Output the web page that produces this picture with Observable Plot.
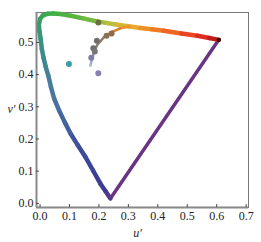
<!DOCTYPE html>
<html>
<head>
<meta charset="utf-8">
<script src="https://cdn.jsdelivr.net/npm/d3@7"></script>
<script src="https://cdn.jsdelivr.net/npm/@observablehq/plot@0.6"></script>
<style>
  html, body { margin: 0; padding: 0; background: #fff; }
  #chart { width: 261px; height: 242px; }
</style>
</head>
<body>
<div id="chart"></div>
<script>
// Spectral locus (u', v'), with estimated wavelength (nm)
const locusU = [0.239,0.222,0.205,0.180,0.154,0.128,0.104,0.085,0.065,0.048,0.037,0.028,0.019,0.012,0.006,0.002,-0.002,-0.004,0.000,0.010,0.025,0.045,0.070,0.104,0.150,0.194,0.230,0.262,0.300,0.341,0.380,0.420,0.480,0.534,0.575,0.607];
const locusV = [0.015,0.038,0.061,0.102,0.144,0.181,0.216,0.250,0.288,0.325,0.362,0.397,0.425,0.452,0.480,0.511,0.535,0.555,0.573,0.584,0.589,0.590,0.588,0.583,0.574,0.565,0.560,0.555,0.550,0.545,0.541,0.536,0.528,0.521,0.514,0.508];
const locusW = [380,440,455,462,468,472,476,479,482,485,487,489,491,493,495,498,500,503,506,510,515,520,527,535,548,560,568,575,582,590,597,604,615,625,640,700];

// Line of purples
const purpleU = [0.607, 0.239];
const purpleV = [0.508, 0.015];

// Planckian locus
const planckU = [0.307,0.273,0.245,0.217,0.194,0.183,0.177,0.171];
const planckV = [0.550,0.544,0.533,0.516,0.492,0.469,0.449,0.428];

// Measured points
const ptU = [0.198,0.243,0.226,0.193,0.181,0.186,0.174,0.198,0.098];
const ptV = [0.562,0.528,0.521,0.505,0.482,0.472,0.452,0.404,0.433];

const xTicks = [0,0.1,0.2,0.3,0.4,0.5,0.6,0.7];
const yTicks = [0,0.1,0.2,0.3,0.4,0.5];

// styles
const spectralColor = d3.scaleLinear()
  .domain([380,450,470,485,495,505,520,545,565,580,595,610,630,700])
  .range(["#55368a","#3a3c94","#3c4c9c","#4a78a0","#3a9088","#38a060","#40b040","#6cb840","#b0c040","#e8b030","#f08020","#f05020","#d82020","#300808"])
  .interpolate(d3.interpolateRgb);
const planckPalette = ["#f0902a","#d88230","#b87a48","#9a7860","#888484","#8e92a8","#a0aacc","#b4c0e0"];
const ptPalette = ["#6e6e3c","#8c6c4c","#8a6e56","#6e6e6e","#6e6e70","#767678","#7c80a0","#8a80b4","#38a0a0"];

const xDom = [-0.012, 0.708];
const yDom = [-0.013, 0.593];

const locus = locusU.map((u, i) => ({u, v: locusV[i], w: locusW[i]}));
const purple = purpleU.map((u, i) => ({u, v: purpleV[i]}));
const planck = planckU.map((u, i) => ({u, v: planckV[i], i}));
const pts = ptU.map((u, i) => ({u, v: ptV[i], i}));

const chart = Plot.plot({
  width: 261,
  height: 242,
  marginLeft: 36,
  marginRight: 13,
  marginTop: 12,
  marginBottom: 35,
  style: {fontFamily: "'Liberation Serif', 'DejaVu Serif', serif", fontSize: "12px", color: "#222", background: "#fff"},
  x: {domain: xDom, ticks: xTicks},
  y: {domain: yDom, ticks: yTicks},
  color: {type: "identity"},
  marks: [
    Plot.frame({stroke: "#777", strokeWidth: 1}),
    Plot.line(purple, {x: "u", y: "v", stroke: "#6a3482", strokeWidth: 3.5, strokeLinecap: "round"}),
    Plot.line(locus, {x: "u", y: "v", z: null, stroke: d => spectralColor(d.w), strokeWidth: 4.5, strokeLinecap: "round", strokeLinejoin: "round"}),
    Plot.line(planck, {x: "u", y: "v", z: null, stroke: d => planckPalette[d.i], strokeWidth: 2.5, strokeLinecap: "round"}),
    Plot.dot(pts, {x: "u", y: "v", r: 3, fill: d => ptPalette[d.i], stroke: null}),
    Plot.ruleY([yDom[0]], {stroke: "#888", strokeWidth: 2}),
    Plot.ruleX([xDom[0]], {stroke: "#888", strokeWidth: 2}),
    Plot.ruleX(xTicks, {x: d => d, y1: yDom[0], y2: yDom[0] + 0.009, stroke: "#444", strokeWidth: 1}),
    Plot.ruleY(yTicks, {y: d => d, x1: xDom[0], x2: xDom[0] + 0.01, stroke: "#444", strokeWidth: 1}),
    Plot.axisX(xTicks, {tickSize: 0, tickPadding: 4, tickFormat: d3.format(".1f"), label: null, fill: "#222", fontSize: 12}),
    Plot.axisY(yTicks, {tickSize: 0, tickPadding: 3, tickFormat: d3.format(".1f"), label: null, fill: "#222", fontSize: 12}),
    Plot.text(["u′"], {frameAnchor: "bottom", dx: -5, dy: 29, text: d => d, fontStyle: "italic", fontSize: 12, fill: "#222"}),
    Plot.text(["v′"], {frameAnchor: "left", dx: -29, dy: -1, text: d => d, fontStyle: "italic", fontSize: 12, fill: "#222"})
  ]
});
document.getElementById("chart").appendChild(chart);
</script>
</body>
</html>
